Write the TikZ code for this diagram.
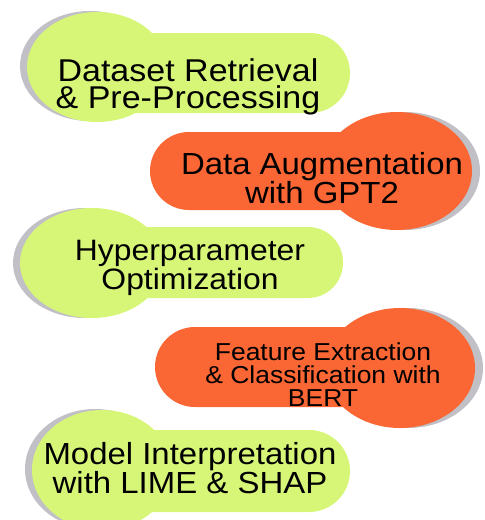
\documentclass[tikz,border=0pt]{standalone}
\usepackage{fontspec}
\setmainfont[FakeStretch=1.08]{Liberation Sans}

\definecolor{lime}{RGB}{215,246,120}
\definecolor{tangerine}{RGB}{250,102,52}
\definecolor{shade}{RGB}{192,192,198}

\begin{document}
\begin{tikzpicture}[x=1pt, y=-1pt, every node/.style={align=center, text=black},
                    limeblob/.style={fill=lime}, orangeblob/.style={fill=tangerine}, blobshadow/.style={fill=shade}]
                \useasboundingbox (0,0) rectangle (485,520);

                      % left steps
                      \fill[blobshadow] (90,66) ellipse [x radius=70, y radius=55];
                      \fill[limeblob] (97,67) ellipse [x radius=70, y radius=55];
                      \fill[limeblob, rounded corners=40pt] (60,33) rectangle (350,113);
                      \fill[blobshadow] (85,263) ellipse [x radius=72, y radius=55];
                      \fill[limeblob] (92,263) ellipse [x radius=72, y radius=55];
                      \fill[limeblob, rounded corners=35pt] (60,227) rectangle (343,298);
                      \fill[blobshadow] (95,469) ellipse [x radius=70, y radius=60];
                      \fill[limeblob] (102,470) ellipse [x radius=70, y radius=60];
                      \fill[limeblob, rounded corners=41pt] (60,430) rectangle (350,512);

                      % right steps
                      \fill[blobshadow] (405,171) ellipse [x radius=75, y radius=59];
                      \fill[orangeblob] (397,171) ellipse [x radius=75, y radius=59];
                      \fill[orangeblob, rounded corners=39pt] (150,132) rectangle (440,210);
                      \fill[blobshadow] (408,368) ellipse [x radius=75, y radius=60];
                      \fill[orangeblob] (400,368) ellipse [x radius=75, y radius=60];
                      \fill[orangeblob, rounded corners=40pt] (155,327) rectangle (440,407);

                      \node (retrieval)    at (188,87)  [font=\fontsize{31.5}{27}\selectfont]   {Dataset Retrieval\\ \& Pre-Processing};
                      \node (augmentation) at (322,178) [font=\fontsize{30.5}{25}\selectfont] {Data Augmentation\\ with GPT2};
                      \node (hyperparam)   at (190,268) [font=\fontsize{29.5}{24.5}\selectfont] {Hyperparameter\\ Optimization};
                      \node (features)     at (323,375) [font=\fontsize{24.5}{23}\selectfont] {Feature Extraction\\ \& Classification with\\ BERT};
                      \node (interpret)    at (190,468) [font=\fontsize{30.5}{24.5}\selectfont] {Model Interpretation\\ with LIME \& SHAP};
                \end{tikzpicture}
\end{document}
